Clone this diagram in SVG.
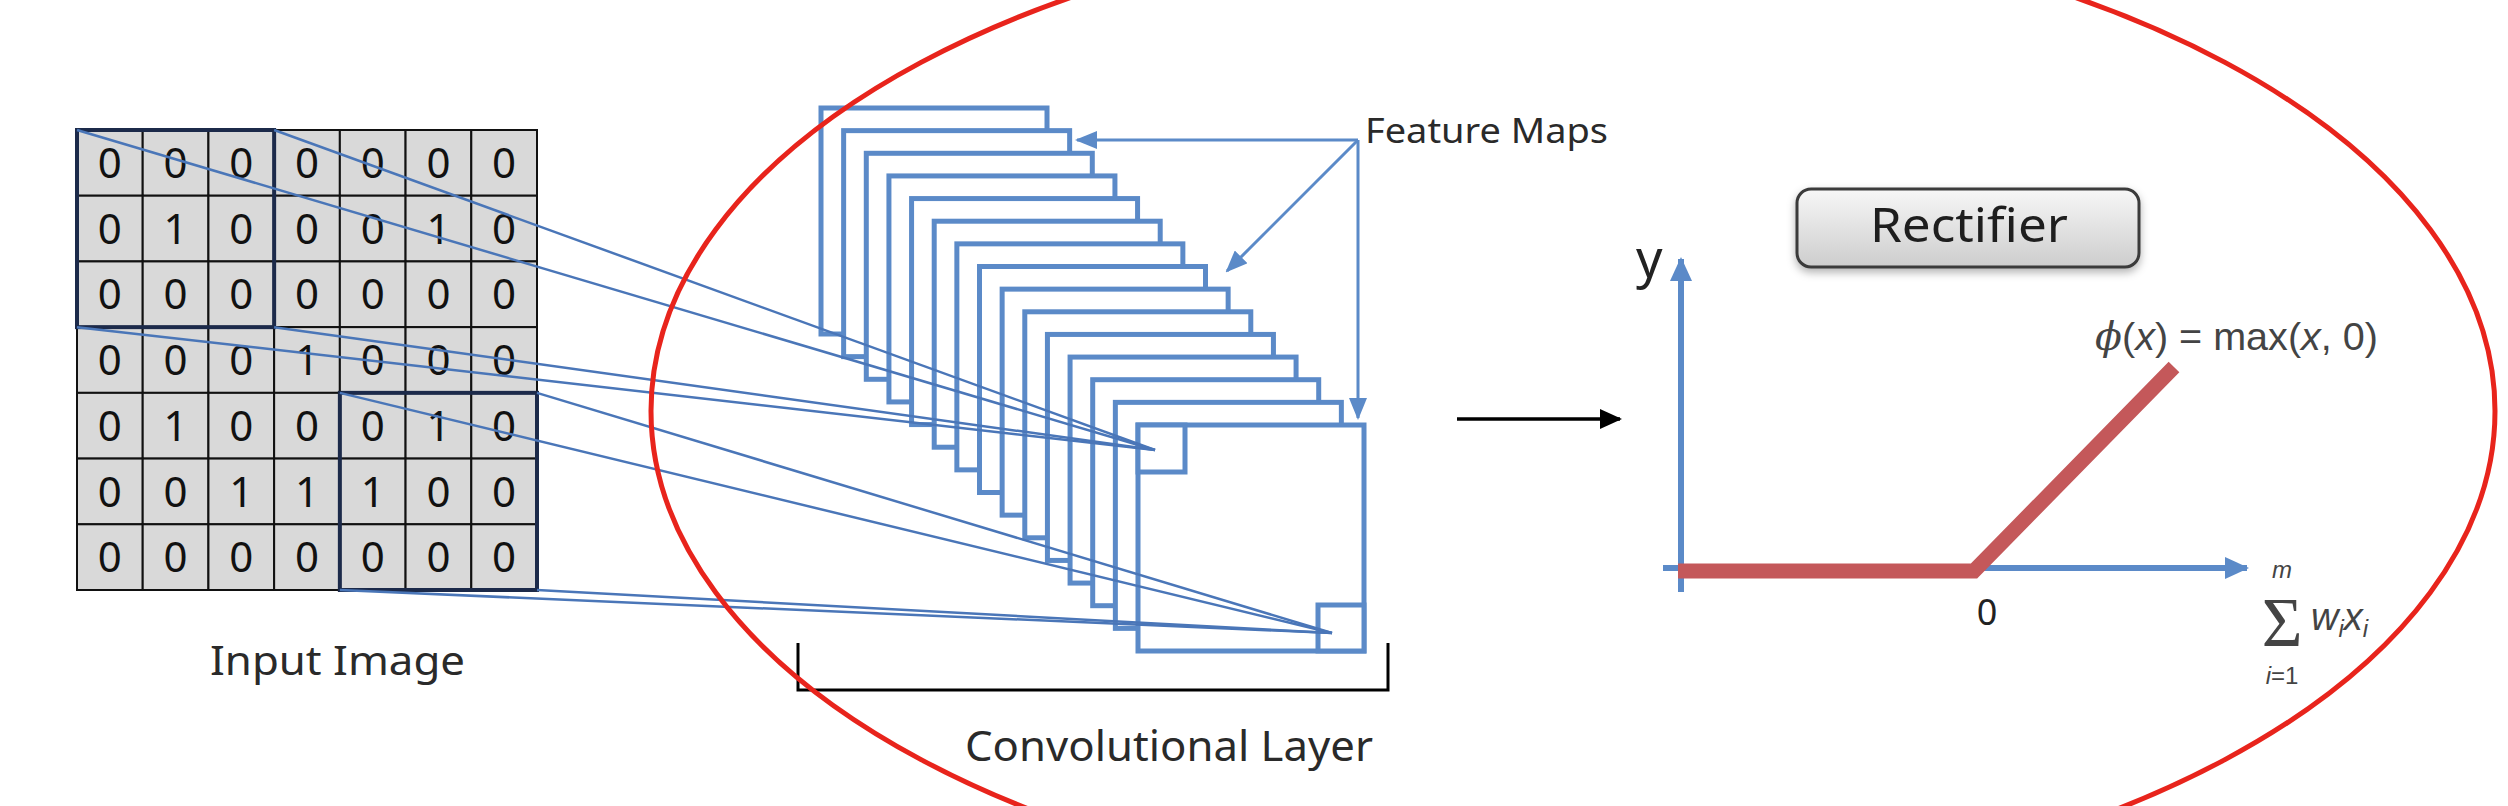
<svg xmlns="http://www.w3.org/2000/svg" width="2508" height="806" viewBox="0 0 2508 806">
<style>
.cell{fill:#d9d9d9;stroke:#111;stroke-width:2}
.dig{font-family:"Noto Sans","Open Sans",sans-serif;font-size:42px;fill:#111;text-anchor:middle}
.hl{fill:none;stroke:#1c2a4a;stroke-width:4}
.map{fill:#fff;stroke:#5b8ac8;stroke-width:5}
.conn{stroke:#4a76b8;stroke-width:2.5;fill:none}
.lbl{font-family:"Noto Sans","Open Sans",sans-serif;fill:#2a2a2a}
.barrow{stroke:#5b8ac8;stroke-width:3;fill:none}
.axis{stroke:#5b8ac8;stroke-width:6;fill:none}
.math{font-family:"Liberation Sans","DejaVu Sans",sans-serif;fill:#444}
</style>
<defs>
<marker id="ahBlue" markerUnits="userSpaceOnUse" markerWidth="22" markerHeight="18" viewBox="0 0 22 18" refX="20" refY="9" orient="auto"><path d="M0,0 L22,9 L0,18 Z" fill="#5b8ac8"/></marker>
<marker id="ahAxis" markerUnits="userSpaceOnUse" markerWidth="24" markerHeight="22" viewBox="0 0 24 22" refX="22" refY="11" orient="auto"><path d="M0,0 L24,11 L0,22 Z" fill="#5b8ac8"/></marker>
<marker id="ahBlack" markerUnits="userSpaceOnUse" markerWidth="22" markerHeight="20" viewBox="0 0 22 20" refX="20" refY="10" orient="auto"><path d="M0,0 L22,10 L0,20 Z" fill="#000"/></marker>
<linearGradient id="btnGrad" x1="0" y1="0" x2="0" y2="1"><stop offset="0" stop-color="#f7f7f7"/><stop offset="1" stop-color="#cdcdcd"/></linearGradient>
<filter id="shadow" x="-10%" y="-20%" width="120%" height="150%"><feDropShadow dx="0" dy="4" stdDeviation="4" flood-color="#000" flood-opacity="0.3"/></filter>
</defs>
<rect width="2508" height="806" fill="#fff"/>

<g id="input-image">
<g id="grid-cells">
<rect class="cell" x="77" y="130" width="65.71" height="65.71"/><rect class="cell" x="142.71" y="130" width="65.71" height="65.71"/><rect class="cell" x="208.43" y="130" width="65.71" height="65.71"/><rect class="cell" x="274.14" y="130" width="65.71" height="65.71"/><rect class="cell" x="339.86" y="130" width="65.71" height="65.71"/><rect class="cell" x="405.57" y="130" width="65.71" height="65.71"/><rect class="cell" x="471.29" y="130" width="65.71" height="65.71"/>
<rect class="cell" x="77" y="195.71" width="65.71" height="65.71"/><rect class="cell" x="142.71" y="195.71" width="65.71" height="65.71"/><rect class="cell" x="208.43" y="195.71" width="65.71" height="65.71"/><rect class="cell" x="274.14" y="195.71" width="65.71" height="65.71"/><rect class="cell" x="339.86" y="195.71" width="65.71" height="65.71"/><rect class="cell" x="405.57" y="195.71" width="65.71" height="65.71"/><rect class="cell" x="471.29" y="195.71" width="65.71" height="65.71"/>
<rect class="cell" x="77" y="261.43" width="65.71" height="65.71"/><rect class="cell" x="142.71" y="261.43" width="65.71" height="65.71"/><rect class="cell" x="208.43" y="261.43" width="65.71" height="65.71"/><rect class="cell" x="274.14" y="261.43" width="65.71" height="65.71"/><rect class="cell" x="339.86" y="261.43" width="65.71" height="65.71"/><rect class="cell" x="405.57" y="261.43" width="65.71" height="65.71"/><rect class="cell" x="471.29" y="261.43" width="65.71" height="65.71"/>
<rect class="cell" x="77" y="327.14" width="65.71" height="65.71"/><rect class="cell" x="142.71" y="327.14" width="65.71" height="65.71"/><rect class="cell" x="208.43" y="327.14" width="65.71" height="65.71"/><rect class="cell" x="274.14" y="327.14" width="65.71" height="65.71"/><rect class="cell" x="339.86" y="327.14" width="65.71" height="65.71"/><rect class="cell" x="405.57" y="327.14" width="65.71" height="65.71"/><rect class="cell" x="471.29" y="327.14" width="65.71" height="65.71"/>
<rect class="cell" x="77" y="392.86" width="65.71" height="65.71"/><rect class="cell" x="142.71" y="392.86" width="65.71" height="65.71"/><rect class="cell" x="208.43" y="392.86" width="65.71" height="65.71"/><rect class="cell" x="274.14" y="392.86" width="65.71" height="65.71"/><rect class="cell" x="339.86" y="392.86" width="65.71" height="65.71"/><rect class="cell" x="405.57" y="392.86" width="65.71" height="65.71"/><rect class="cell" x="471.29" y="392.86" width="65.71" height="65.71"/>
<rect class="cell" x="77" y="458.57" width="65.71" height="65.71"/><rect class="cell" x="142.71" y="458.57" width="65.71" height="65.71"/><rect class="cell" x="208.43" y="458.57" width="65.71" height="65.71"/><rect class="cell" x="274.14" y="458.57" width="65.71" height="65.71"/><rect class="cell" x="339.86" y="458.57" width="65.71" height="65.71"/><rect class="cell" x="405.57" y="458.57" width="65.71" height="65.71"/><rect class="cell" x="471.29" y="458.57" width="65.71" height="65.71"/>
<rect class="cell" x="77" y="524.29" width="65.71" height="65.71"/><rect class="cell" x="142.71" y="524.29" width="65.71" height="65.71"/><rect class="cell" x="208.43" y="524.29" width="65.71" height="65.71"/><rect class="cell" x="274.14" y="524.29" width="65.71" height="65.71"/><rect class="cell" x="339.86" y="524.29" width="65.71" height="65.71"/><rect class="cell" x="405.57" y="524.29" width="65.71" height="65.71"/><rect class="cell" x="471.29" y="524.29" width="65.71" height="65.71"/>
</g>
<g id="grid-digits" class="dig">
<text x="109.86" y="178">0</text><text x="175.57" y="178">0</text><text x="241.29" y="178">0</text><text x="307" y="178">0</text><text x="372.71" y="178">0</text><text x="438.43" y="178">0</text><text x="504.14" y="178">0</text>
<text x="109.86" y="243.71">0</text><text x="175.57" y="243.71">1</text><text x="241.29" y="243.71">0</text><text x="307" y="243.71">0</text><text x="372.71" y="243.71">0</text><text x="438.43" y="243.71">1</text><text x="504.14" y="243.71">0</text>
<text x="109.86" y="309.43">0</text><text x="175.57" y="309.43">0</text><text x="241.29" y="309.43">0</text><text x="307" y="309.43">0</text><text x="372.71" y="309.43">0</text><text x="438.43" y="309.43">0</text><text x="504.14" y="309.43">0</text>
<text x="109.86" y="375.14">0</text><text x="175.57" y="375.14">0</text><text x="241.29" y="375.14">0</text><text x="307" y="375.14">1</text><text x="372.71" y="375.14">0</text><text x="438.43" y="375.14">0</text><text x="504.14" y="375.14">0</text>
<text x="109.86" y="440.86">0</text><text x="175.57" y="440.86">1</text><text x="241.29" y="440.86">0</text><text x="307" y="440.86">0</text><text x="372.71" y="440.86">0</text><text x="438.43" y="440.86">1</text><text x="504.14" y="440.86">0</text>
<text x="109.86" y="506.57">0</text><text x="175.57" y="506.57">0</text><text x="241.29" y="506.57">1</text><text x="307" y="506.57">1</text><text x="372.71" y="506.57">1</text><text x="438.43" y="506.57">0</text><text x="504.14" y="506.57">0</text>
<text x="109.86" y="572.29">0</text><text x="175.57" y="572.29">0</text><text x="241.29" y="572.29">0</text><text x="307" y="572.29">0</text><text x="372.71" y="572.29">0</text><text x="438.43" y="572.29">0</text><text x="504.14" y="572.29">0</text>
</g>
<rect id="filter-tl" class="hl" x="77" y="130" width="197.14" height="197.14"/>
<rect id="filter-br" class="hl" x="339.86" y="392.86" width="197.14" height="197.14"/>
<text class="lbl" x="210" y="675" font-size="40" textLength="255" lengthAdjust="spacingAndGlyphs">Input Image</text>
</g>

<g id="feature-maps">
<rect class="map" x="821" y="108" width="226" height="226"/>
<rect class="map" x="843.64" y="130.64" width="226" height="226"/>
<rect class="map" x="866.29" y="153.29" width="226" height="226"/>
<rect class="map" x="888.93" y="175.93" width="226" height="226"/>
<rect class="map" x="911.57" y="198.57" width="226" height="226"/>
<rect class="map" x="934.21" y="221.21" width="226" height="226"/>
<rect class="map" x="956.86" y="243.86" width="226" height="226"/>
<rect class="map" x="979.5" y="266.5" width="226" height="226"/>
<rect class="map" x="1002.14" y="289.14" width="226" height="226"/>
<rect class="map" x="1024.79" y="311.79" width="226" height="226"/>
<rect class="map" x="1047.43" y="334.43" width="226" height="226"/>
<rect class="map" x="1070.07" y="357.07" width="226" height="226"/>
<rect class="map" x="1092.71" y="379.71" width="226" height="226"/>
<rect class="map" x="1115.36" y="402.36" width="226" height="226"/>
<rect class="map" x="1138" y="425" width="226" height="226"/>
<rect class="map" x="1138" y="425" width="47" height="47"/>
<rect class="map" x="1318" y="605" width="46" height="46"/>
</g>

<g id="connectors">
<line class="conn" x1="77" y1="130" x2="1155" y2="450"/>
<line class="conn" x1="274.14" y1="130" x2="1155" y2="450"/>
<line class="conn" x1="77" y1="327.14" x2="1155" y2="450"/>
<line class="conn" x1="274.14" y1="327.14" x2="1155" y2="450"/>
<line class="conn" x1="339.86" y1="392.86" x2="1332" y2="633"/>
<line class="conn" x1="537" y1="392.86" x2="1332" y2="633"/>
<line class="conn" x1="339.86" y1="590" x2="1332" y2="633"/>
<line class="conn" x1="537" y1="590" x2="1332" y2="633"/>
</g>

<g id="feature-maps-label">
<text class="lbl" x="1365" y="143" font-size="34" textLength="243" lengthAdjust="spacingAndGlyphs">Feature Maps</text>
<line class="barrow" x1="1358" y1="140" x2="1077" y2="140" marker-end="url(#ahBlue)"/>
<line class="barrow" x1="1358" y1="140" x2="1227" y2="271" marker-end="url(#ahBlue)"/>
<line class="barrow" x1="1358" y1="140" x2="1358" y2="418" marker-end="url(#ahBlue)"/>
</g>

<g id="conv-layer-label">
<path d="M798,643 V690 H1388 V643" fill="none" stroke="#000" stroke-width="3"/>
<text class="lbl" x="965" y="761" font-size="42" textLength="408" lengthAdjust="spacingAndGlyphs">Convolutional Layer</text>
</g>

<g id="flow-arrow">
<line x1="1457" y1="419" x2="1620" y2="419" stroke="#000" stroke-width="3.5" marker-end="url(#ahBlack)"/>
</g>

<g id="rectifier">
<rect x="1797" y="189" width="342" height="78" rx="14" fill="url(#btnGrad)" stroke="#3a3a3a" stroke-width="3" filter="url(#shadow)"/>
<text x="1870" y="242" font-family="'Noto Sans','Open Sans',sans-serif" font-size="47" fill="#1e1e1e" textLength="198" lengthAdjust="spacingAndGlyphs">Rectifier</text>
</g>

<g id="relu-graph">
<line class="axis" x1="1681" y1="592" x2="1681" y2="259" marker-end="url(#ahAxis)"/>
<line class="axis" x1="1663" y1="568" x2="2247" y2="568" marker-end="url(#ahAxis)"/>
<polyline points="1678,571 1974,571 2174,367" fill="none" stroke="#c4585a" stroke-width="15" stroke-linejoin="miter"/>
<text x="1636" y="277" font-family="'Noto Sans','Open Sans',sans-serif" font-size="52" fill="#222">y</text>
<text x="1987" y="625" font-family="'Noto Sans','Open Sans',sans-serif" font-size="36" fill="#222" text-anchor="middle">0</text>
<text class="math" x="2095" y="350" font-size="39" textLength="283" lengthAdjust="spacingAndGlyphs"><tspan font-family="'DejaVu Serif',serif" font-style="italic">ϕ</tspan>(<tspan font-style="italic">x</tspan>) = max(<tspan font-style="italic">x</tspan>, 0)</text>
<text class="math" x="2282" y="578" font-size="24" font-style="italic" text-anchor="middle">m</text>
<text x="2282" y="646" font-family="'Liberation Serif',serif" font-size="70" fill="#444" text-anchor="middle">Σ</text>
<text class="math" x="2282" y="684" font-size="24" text-anchor="middle"><tspan font-style="italic">i</tspan>=1</text>
<text class="math" x="2311" y="630" font-size="38" font-style="italic">w<tspan font-size="24" dy="7">i</tspan><tspan font-size="38" dy="-7">x</tspan><tspan font-size="24" dy="7">i</tspan></text>
</g>

<g id="highlight-ellipse">
<ellipse cx="1573" cy="411" rx="922" ry="493" fill="none" stroke="#e8241c" stroke-width="5"/>
</g>
</svg>
